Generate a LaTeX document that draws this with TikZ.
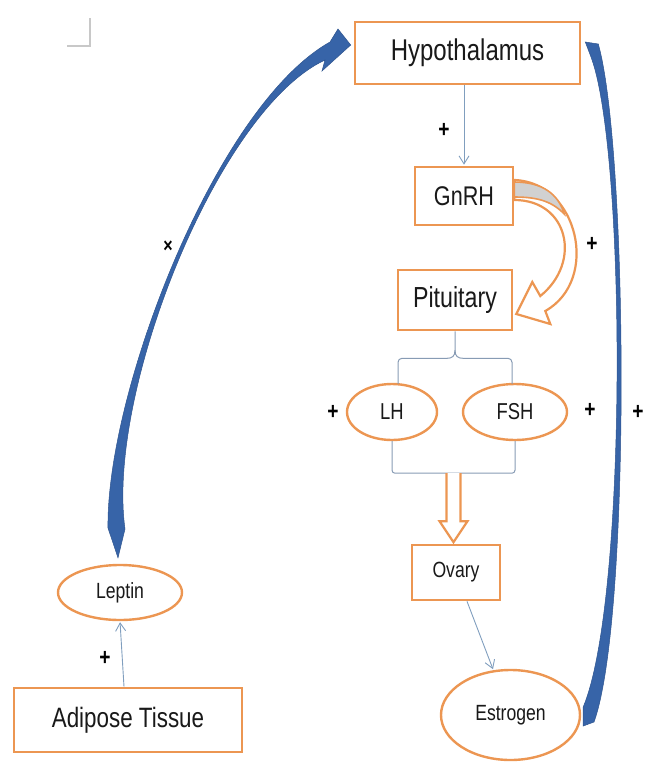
\documentclass[tikz,border=0pt]{standalone}
\usepackage{fontspec}
\setmainfont{Liberation Sans}[FakeStretch=0.8]
\usepackage{tikz}
\usetikzlibrary{positioning,arrows.meta,shapes.geometric,calc}

\definecolor{boxorange}{RGB}{236,150,82}
\definecolor{arrowblue}{RGB}{55,100,168}
\definecolor{linkblue}{RGB}{128,158,190}
\definecolor{bracegray}{RGB}{135,155,180}
\definecolor{markgray}{RGB}{200,200,200}

\begin{document}
\begin{tikzpicture}[
    x=1pt, y=-1pt,
    box/.style={
        rectangle,
        draw=boxorange,
        line width=2.6pt,
        fill=white,
        inner sep=0pt,
        text=black!90
    },
    oval/.style={
        ellipse,
        draw=boxorange,
        line width=2.4pt,
        fill=white,
        inner sep=0pt,
        text=black!90
    },
    link/.style={
        draw=linkblue,
        line width=0.9pt,
        shorten >=1pt,
        -{Straight Barb[length=8pt,width=10pt]}
    },
    brace/.style={draw=bracegray, line width=1pt},
    hollow/.style={draw=boxorange, line width=2.2pt, fill=white},
    feedback/.style={fill=arrowblue, draw=arrowblue!85!black, line width=0.5pt},
    sign/.style={font=\fontsize{24}{24}\selectfont\bfseries, text=black}
]
\useasboundingbox (0,0) rectangle (645,764);

% ---------------- PAGE MARK ----------------
\draw[markgray, line width=1.2pt] (90,18) -- (90,46) -- (67,46);

% ---------------- AXIS ----------------
\node[box, minimum width=225, minimum height=62, font=\fontsize{30}{32}\selectfont] (hypo) at (467.5,53) {Hypothalamus};
\node[box, minimum width=98, minimum height=58, font=\fontsize{27}{29}\selectfont] (gnrh) at (464,196) {GnRH};
\node[box, minimum width=114, minimum height=60, font=\fontsize{29}{31}\selectfont] (pit) at (455,300) {Pituitary};

% ---------------- GONADOTROPINS ----------------
\node[oval, minimum width=90, minimum height=56, font=\fontsize{23}{25}\selectfont] (lh) at (392,412) {LH};
\node[oval, minimum width=104, minimum height=56, font=\fontsize{23}{25}\selectfont] (fsh) at (515,412) {FSH};

% ---------------- OVARY ----------------
\node[box, minimum width=88, minimum height=55, font=\fontsize{22}{24}\selectfont] (ovary) at (456,572.5) {Ovary};
\node[oval, minimum width=139, minimum height=90, font=\fontsize{22}{24}\selectfont] (estrogen) at (510.5,715) {Estrogen};

% ---------------- ADIPOSE ----------------
\node[oval, minimum width=124, minimum height=55, font=\fontsize{22}{24}\selectfont] (leptin) at (120,592.5) {Leptin};
\node[box, minimum width=228, minimum height=64, font=\fontsize{28}{30}\selectfont] (adipose) at (128,720) {Adipose Tissue};

% ---------------- SIGNS ----------------
\node[sign] (s1) at (444,130) {+};
\node[sign] (s2) at (592,244) {+};
\node[sign] (s3) at (333,412) {+};
\node[sign] (s4) at (590,410) {+};
\node[sign] (s5) at (638,412) {+};
\node[sign] (s6) at (105,658) {+};
\node[sign, font=\fontsize{20}{20}\selectfont\bfseries] (s7) at (168,247) {×};

% ---------------- ARROWS ----------------
\draw[link] (gnrh.north |- hypo.south) -- (gnrh.north);
\draw[link] (ovary) -- (estrogen);
\draw[link] ($(adipose.north)+(-4,0)$) -- (leptin.south);

% GnRH to Pituitary
\begin{scope}[shift={(gnrh.east)}]
\draw[hollow] (0,4) .. controls (54,4) and (68,66) .. (26,100) -- (18,86) -- (2,118)
    -- (36,128) -- (31,115) .. controls (86,84) and (64,-14) .. (0,-16) -- cycle;
\draw[boxorange, line width=1.6pt, fill=black!18] (0,-14) .. controls (28,-14) and (44,-2) .. (50,18)
    .. controls (38,6) and (25,1) .. (0,1) -- cycle;
\end{scope}

% brackets
\draw[brace] (pit.south) -- ++(0,19) .. controls +(0,6) and +(5,0) .. ++(-8,8)
    [rounded corners=4pt] -| ($(lh.north)+(6,1)$);
\draw[brace] ($(pit.south)+(0,19)$) .. controls +(0,6) and +(-5,0) .. ++(8,8)
    [rounded corners=4pt] -| ($(fsh.north)+(-3,1)$);
\draw[brace, rounded corners=3pt] (lh.south) |- ($(fsh.south)+(0,32)$) -- (fsh.south);
\path ($(lh.south)!0.5!(fsh.south)$) ++(0,32) coordinate (bot);
\draw[hollow, shift={(bot)}] (-7,0) -- (-7,48) -- (-14,48) -- (0,69) -- (14,48) -- (7,48) -- (7,0);

% feedback loops
\fill[feedback] ($(leptin.north)+(-2,-6)$) -- (108,528) .. controls (106,392) and (216,106) .. (330,42)
    -- (338,29) -- ($(hypo.west)+(-3,-8)$) -- (322,71) -- (325,60)
    .. controls (218,110) and (106,392) .. (125,529) -- cycle;
\fill[feedback] ($(hypo.east)+(4,-11)$) -- ($(hypo.east)+(17,-9)$) .. controls (628,150) and (631,620) .. (594,722)
    -- ($(estrogen.east)+(2,11)$) -- ($(estrogen.east)+(2,-8)$)
    .. controls (628,600) and (626,150) .. (591,57) -- cycle;

\end{tikzpicture}
\end{document}
